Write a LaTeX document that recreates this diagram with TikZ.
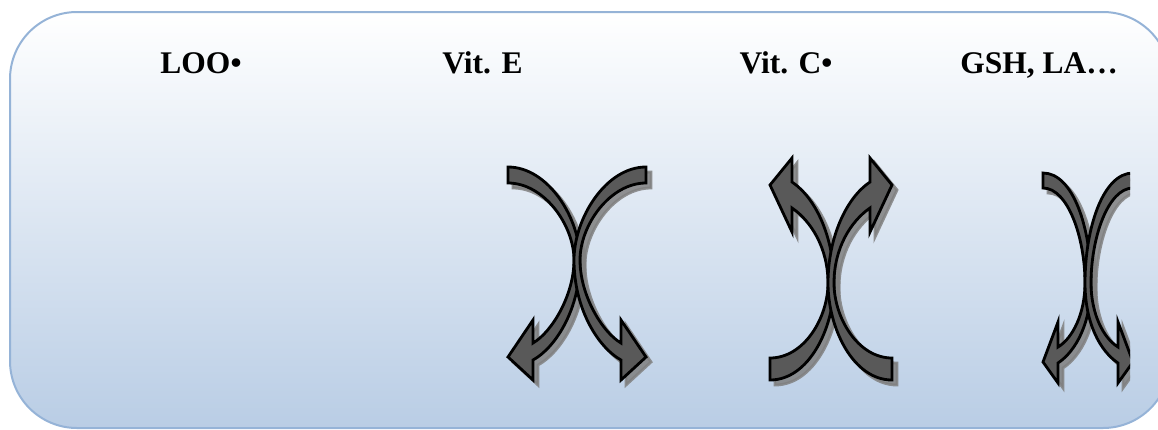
\documentclass[tikz,border=0pt]{standalone}
\usepackage{fontspec}
\setmainfont{Liberation Serif}
\definecolor{bordc}{RGB}{149,179,215}
\definecolor{botc}{RGB}{185,205,229}
\definecolor{arrfill}{RGB}{89,89,89}
\definecolor{shadc}{RGB}{128,128,128}
\tikzset{
  lbl/.style={font=\fontsize{31.5}{36}\selectfont\bfseries, inner sep=0pt, anchor=base},
  arrowbody/.style={fill=arrfill, draw=black, line width=2.8pt, line join=miter},
  arrowshadow/.style={fill=shadc, draw=shadc, line width=2.8pt, opacity=0.85},
  shapeA/.pic={\path[pic actions] (-69,-93) .. controls (-29,-93) and (3,-42) .. (3,0)
      .. controls (3,50) and (-22,88) .. (-44,100) -- (-44,120) -- (-69,97) -- (-44,60) -- (-44,83)
      .. controls (-25,72) and (-3,35) .. (-3,0) .. controls (-3,-35) and (-33,-77) .. (-69,-77) -- cycle;},
  shapeB/.pic={\path[pic actions] (-61,-97) .. controls (-22,-97) and (3,-45) .. (3,0)
      .. controls (3,45) and (-15,85) .. (-39,101) -- (-39,125) -- (-61,98) -- (-39,51) -- (-39,75)
      .. controls (-20,62) and (-3,35) .. (-3,0) .. controls (-3,-35) and (-27,-75) .. (-61,-75) -- cycle;},
  shapeC/.pic={\path[pic actions] (-45,-110) .. controls (-15,-110) and (3,-55) .. (3,0)
      .. controls (3,40) and (-12,68) .. (-30,80) -- (-30,100) -- (-45,79) -- (-30,39) -- (-30,64)
      .. controls (-15,55) and (-3,30) .. (-3,0) .. controls (-3,-45) and (-20,-95) .. (-45,-95) -- cycle;}
}
\begin{document}
\begin{tikzpicture}[x=1pt, y=-1pt]
\useasboundingbox (0,0) rectangle (1158,429);
\path[draw=bordc, line width=2pt, top color=white, bottom color=botc, rounded corners=67pt]
  (10,12) rectangle (1170,428);

\node[lbl] (loo)  at (201,73)   {LOO•};
\node[lbl] (vite) at (482.5,73) {Vit. E};
\node[lbl] (vitc) at (786,73)   {Vit. C•};
\node[lbl] (gsh)  at (1039,73)  {GSH, LA…};

% group 1
\pic[arrowshadow] at (582,265) {shapeA};
\pic[arrowshadow, xscale=-1] at (582,265) {shapeA};
\pic[arrowbody] at (577,260) {shapeA};
\pic[arrowbody, xscale=-1] at (577,260) {shapeA};

% group 2
\pic[arrowshadow, yscale=-1] at (836,288) {shapeB};
\pic[arrowshadow, xscale=-1, yscale=-1] at (836,288) {shapeB};
\pic[arrowbody, yscale=-1] at (831,283) {shapeB};
\pic[arrowbody, xscale=-1, yscale=-1] at (831,283) {shapeB};

% group 3 (clipped)
\begin{scope}
\clip (0,0) rectangle (1130,429);
\pic[arrowshadow] at (1093,288) {shapeC};
\pic[arrowshadow, xscale=-1] at (1093,288) {shapeC};
\pic[arrowbody] at (1088,283) {shapeC};
\pic[arrowbody, xscale=-1] at (1088,283) {shapeC};
\end{scope}
\end{tikzpicture}
\end{document}
